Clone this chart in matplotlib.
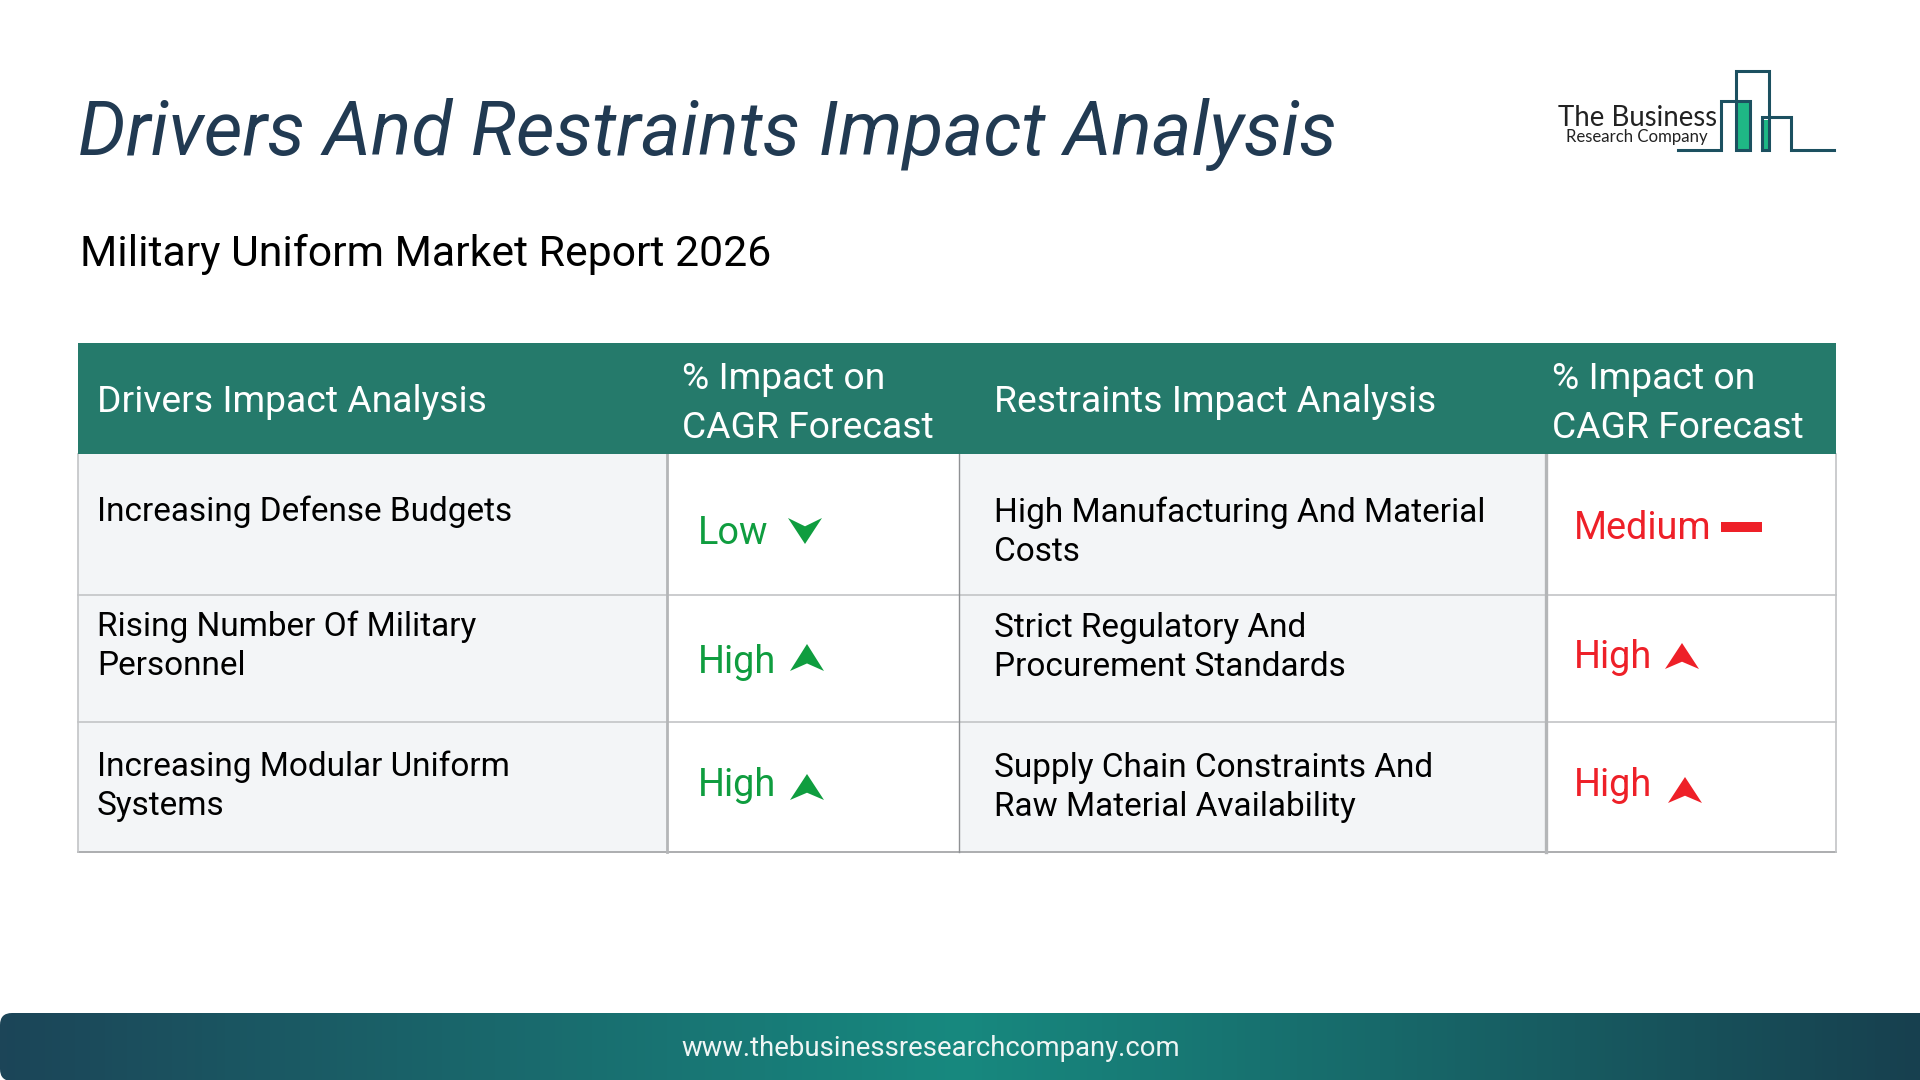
import matplotlib
matplotlib.use("Agg")
import matplotlib.pyplot as plt
import numpy as np
from matplotlib.colors import LinearSegmentedColormap
from matplotlib.patches import FancyBboxPatch, Rectangle

title = "Drivers And Restraints Impact Analysis"
subtitle = "Military Uniform Market Report 2026"
url = "www.thebusinessresearchcompany.com"

driver_header = "Drivers Impact Analysis"
restraint_header = "Restraints Impact Analysis"
impact_header = ["% Impact on", "CAGR Forecast"]

drivers = [["Increasing Defense Budgets"],
           ["Rising Number Of Military", "Personnel"],
           ["Increasing Modular Uniform", "Systems"]]
driver_impact = ["Low", "High", "High"]
restraints = [["High Manufacturing And Material", "Costs"],
              ["Strict Regulatory And", "Procurement Standards"],
              ["Supply Chain Constraints And", "Raw Material Availability"]]
restraint_impact = ["Medium", "High", "High"]

GREEN = "#0f9d3f"
RED = "#ee2028"
TEAL = "#257a6b"
LINE = "#c2c4c6"
CELL = "#f3f5f7"

plt.rcParams['font.family'] = ['Roboto', 'DejaVu Sans']

fig = plt.figure(figsize=(19.2, 10.8), dpi=100)
ax = fig.add_axes([0, 0, 1, 1])
ax.set_xlim(0, 1920)
ax.set_ylim(1080, 0)
ax.axis('off')

# table layout in pixels
col_x = [78, 667, 959, 1546, 1836]
head_top, head_bottom = 343, 454
row_y = [454, 595, 722, 852]

ax.add_patch(Rectangle((col_x[0], row_y[0]), col_x[1] - col_x[0], row_y[3] - row_y[0], fc=CELL, ec='none'))
ax.add_patch(Rectangle((col_x[2], row_y[0]), col_x[3] - col_x[2], row_y[3] - row_y[0], fc=CELL, ec='none'))
ax.add_patch(Rectangle((col_x[0], head_top), col_x[4] - col_x[0], head_bottom - head_top, fc=TEAL, ec='none', zorder=3))

for y in row_y[1:]:
    ax.plot([col_x[0], col_x[4]], [y, y], color=LINE, lw=1.2, zorder=2)
ax.plot([col_x[0], col_x[4]], [row_y[3], row_y[3]], color="#a8aaac", lw=1.2, zorder=2)
ax.plot([col_x[0], col_x[0]], [row_y[0], row_y[3]], color=LINE, lw=1.2, zorder=2)
ax.plot([col_x[1], col_x[1]], [row_y[0], row_y[3]], color="#b4b6b8", lw=2, zorder=2)
ax.plot([col_x[2], col_x[2]], [row_y[0], row_y[3]], color="#8f9194", lw=1, zorder=2)
ax.plot([col_x[3], col_x[3]], [row_y[0], row_y[3]], color="#b4b6b8", lw=2.4, zorder=2)
ax.plot([col_x[4], col_x[4]], [row_y[0], row_y[3]], color=LINE, lw=1.2, zorder=2)

# headings
ax.text(78, 155, title, fontsize=54.2, style='italic', color="#213a52", va='baseline')
ax.text(80, 266, subtitle, fontsize=30.8, color="black", va='baseline')

ax.text(97, 412, driver_header, fontsize=26.8, color="white", va='baseline', zorder=4)
ax.text(994, 412, restraint_header, fontsize=26.8, color="white", va='baseline', zorder=4)
for x in [682, 1552]:
    ax.text(x, 389, impact_header[0], fontsize=26.8, color="white", va='baseline', zorder=4)
    ax.text(x, 438, impact_header[1], fontsize=26.8, color="white", va='baseline', zorder=4)

# body text
driver_base = [[521], [636, 675], [776, 815]]
restraint_base = [[522, 561], [637, 676], [777, 816]]
for lines, bases in zip(drivers, driver_base):
    for s, y in zip(lines, bases):
        ax.text(97, y, s, fontsize=24, color="black", va='baseline')
for lines, bases in zip(restraints, restraint_base):
    for s, y in zip(lines, bases):
        ax.text(994, y, s, fontsize=24, color="black", va='baseline')

for s, y in zip(driver_impact, [544, 673, 796]):
    ax.text(698, y, s, fontsize=27.3, color=GREEN, va='baseline')
for s, y in zip(restraint_impact, [539, 668, 796]):
    ax.text(1574, y, s, fontsize=27.3, color=RED, va='baseline')


def arrow(x0, x1, top, bottom, color, up=True):
    mid = (x0 + x1) / 2
    h = bottom - top
    if up:
        pts = [(x0, bottom), (mid, top), (x1, bottom), (mid, bottom - 0.28 * h)]
    else:
        pts = [(x0, top), (mid, top + 0.32 * h), (x1, top), (mid, bottom)]
    ax.fill(*zip(*pts), color=color, lw=0)


arrow(788, 822, 518, 544, GREEN, up=False)
arrow(790, 824, 644, 671, GREEN)
arrow(790, 824, 774, 800, GREEN)
arrow(1665, 1699, 643, 669, RED)
arrow(1668, 1702, 777, 803, RED)
ax.add_patch(Rectangle((1721, 522), 41, 10, fc=RED, ec='none'))

# logo
LOGO = "#1c5060"
ax.add_patch(Rectangle((1737, 101), 12, 49, fc="#1fb785", ec='none'))
ax.add_patch(Rectangle((1763, 120), 6, 30, fc="#1fb785", ec='none'))
logo_x = [1678, 1721, 1721, 1750, 1750, 1736, 1736, 1769, 1769, 1762, 1762, 1791, 1791, 1834]
logo_y = [150, 150, 101, 101, 150, 150, 71, 71, 150, 150, 117, 117, 150, 150]
ax.plot(logo_x, logo_y, color=LOGO, lw=2.2, solid_joinstyle='miter')
ax.text(1558, 126, "The Business", fontsize=19.9, family=['Lato', 'DejaVu Sans'], color="#222222", va='baseline')
ax.text(1566, 142, "Research Company", fontsize=12.1, family=['Lato', 'DejaVu Sans'], color="#222222", va='baseline')

# footer band, rounded on the left side only
band = LinearSegmentedColormap.from_list("band", ["#1c4558", "#17897f", "#17404f"])
grad = np.linspace(0, 1, 512).reshape(1, -1)
im = ax.imshow(grad, cmap=band, extent=(0, 1920, 1081, 1013), aspect='auto', zorder=1)
clip = FancyBboxPatch((10, 1023), 1950, 48, boxstyle="round,pad=10,rounding_size=12", transform=ax.transData, fc='none', ec='none')
ax.add_patch(clip)
im.set_clip_path(clip)
ax.set_xlim(0, 1920)
ax.set_ylim(1080, 0)
ax.text(931, 1056, url, fontsize=19.8, color="#eef5f4", ha='center', va='baseline', zorder=2)

fig.savefig("out.png", dpi=100)
